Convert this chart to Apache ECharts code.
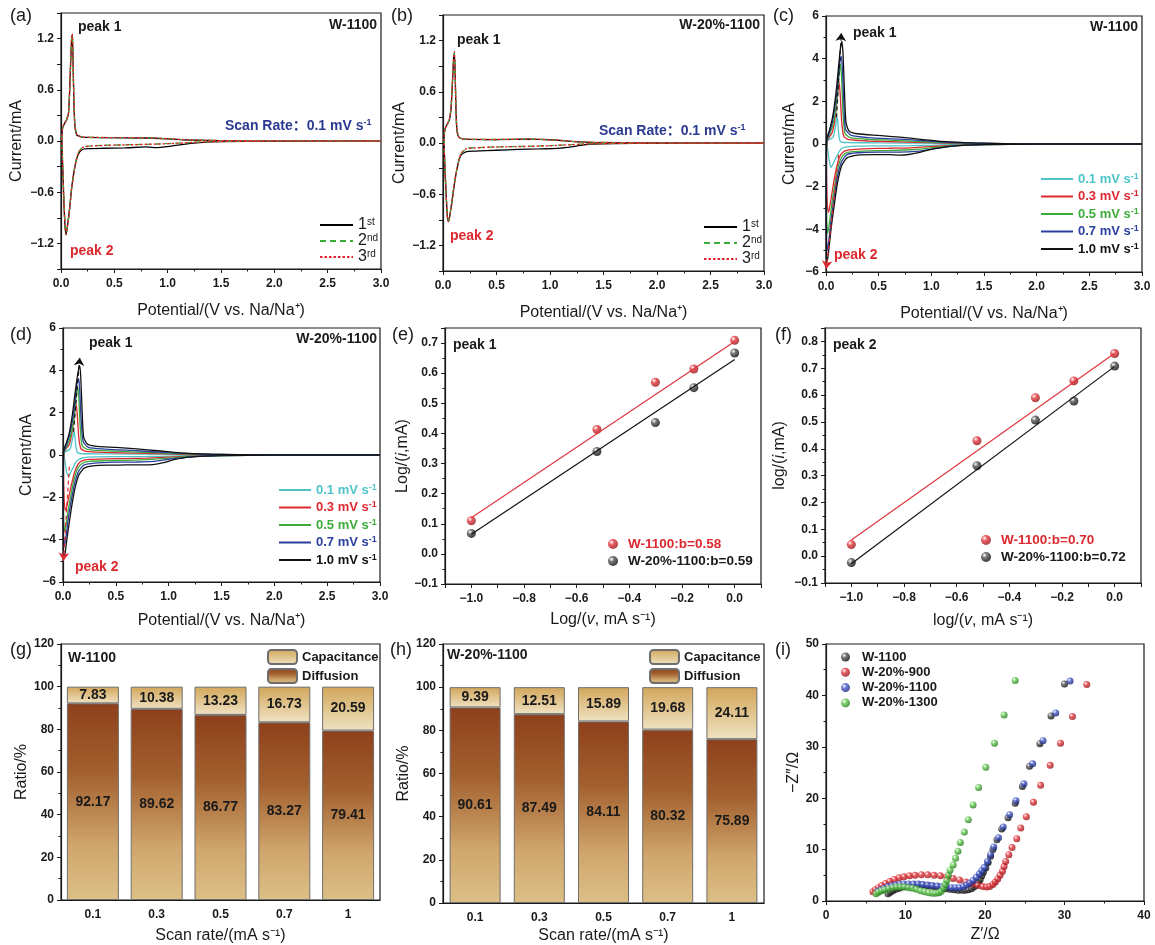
<!DOCTYPE html>
<html>
<head>
<meta charset="utf-8">
<script src="https://cdn.jsdelivr.net/npm/echarts@6/dist/echarts.min.js"></script>
<style>
html, body { margin: 0; background: #fff; }
#chart { width: 1155px; height: 945px; }
</style>
</head>
<body>
<div id="chart"></div>
<script>
// ---- data ----
// (a) W-1100 at 0.1 mV/s, cycles 1-3  [potential V, current mA]
const a1st = [[3.0,0],[2.0,-0.003],[1.5,-0.008],[1.3,-0.02],[1.15,-0.04],[1.0,-0.065],[0.9,-0.078],[0.8,-0.07],[0.6,-0.08],[0.4,-0.085],[0.25,-0.09],[0.2,-0.1],[0.16,-0.16],[0.13,-0.3],[0.1,-0.55],[0.08,-0.8],[0.06,-1.0],[0.048,-1.1],[0.038,-1.0],[0.028,-0.75],[0.02,-0.45],[0.012,-0.15],[0.008,0.05],[0.015,0.15],[0.03,0.2],[0.05,0.24],[0.07,0.32],[0.08,0.55],[0.09,0.9],[0.1,1.2],[0.106,1.24],[0.112,1.0],[0.12,0.5],[0.13,0.18],[0.15,0.07],[0.2,0.045],[0.4,0.04],[0.8,0.035],[1.0,0.025],[1.2,0.012],[1.5,0.004],[2.0,0.002],[3.0,0]];
const a2nd = [[3.0,0],[2.0,-0.002],[1.5,-0.005],[1.3,-0.012],[1.1,-0.025],[0.9,-0.035],[0.6,-0.045],[0.4,-0.05],[0.25,-0.06],[0.2,-0.075],[0.16,-0.14],[0.13,-0.3],[0.1,-0.55],[0.08,-0.8],[0.06,-1.0],[0.047,-1.08],[0.038,-0.98],[0.028,-0.72],[0.02,-0.43],[0.012,-0.14],[0.008,0.05],[0.015,0.15],[0.03,0.2],[0.05,0.24],[0.07,0.33],[0.08,0.56],[0.09,0.92],[0.1,1.22],[0.106,1.25],[0.112,1.02],[0.12,0.52],[0.13,0.19],[0.15,0.075],[0.2,0.045],[0.4,0.04],[0.8,0.037],[1.0,0.027],[1.2,0.013],[1.5,0.005],[2.0,0.002],[3.0,0]];
const a3rd = [[3.0,0],[2.0,-0.002],[1.5,-0.006],[1.3,-0.013],[1.1,-0.026],[0.9,-0.036],[0.6,-0.046],[0.4,-0.052],[0.25,-0.062],[0.2,-0.078],[0.16,-0.15],[0.13,-0.31],[0.1,-0.56],[0.08,-0.81],[0.06,-1.01],[0.047,-1.09],[0.038,-0.99],[0.028,-0.73],[0.02,-0.44],[0.012,-0.15],[0.008,0.05],[0.015,0.15],[0.03,0.2],[0.05,0.24],[0.07,0.33],[0.08,0.57],[0.09,0.93],[0.1,1.23],[0.106,1.26],[0.112,1.03],[0.12,0.53],[0.13,0.19],[0.15,0.076],[0.2,0.046],[0.4,0.041],[0.8,0.037],[1.0,0.027],[1.2,0.013],[1.5,0.005],[2.0,0.002],[3.0,0]];
// (b) W-20%-1100 at 0.1 mV/s
const b1st = [[3.0,0],[2.0,-0.003],[1.6,-0.006],[1.4,-0.012],[1.3,-0.025],[1.2,-0.045],[1.1,-0.06],[0.9,-0.07],[0.7,-0.075],[0.5,-0.085],[0.3,-0.095],[0.22,-0.1],[0.17,-0.14],[0.14,-0.25],[0.11,-0.45],[0.08,-0.72],[0.06,-0.88],[0.05,-0.92],[0.04,-0.85],[0.03,-0.62],[0.02,-0.35],[0.012,-0.08],[0.01,0.08],[0.02,0.17],[0.04,0.22],[0.06,0.27],[0.075,0.4],[0.09,0.75],[0.1,1.0],[0.106,1.05],[0.113,0.85],[0.12,0.45],[0.13,0.15],[0.15,0.065],[0.2,0.045],[0.5,0.04],[0.8,0.045],[1.0,0.038],[1.2,0.02],[1.4,0.008],[2.0,0.002],[3.0,0]];
const b2nd = [[3.0,0],[2.0,-0.002],[1.6,-0.004],[1.4,-0.008],[1.2,-0.018],[1.0,-0.03],[0.8,-0.038],[0.5,-0.045],[0.3,-0.055],[0.22,-0.065],[0.17,-0.12],[0.14,-0.24],[0.11,-0.44],[0.08,-0.71],[0.06,-0.87],[0.05,-0.91],[0.04,-0.84],[0.03,-0.61],[0.02,-0.34],[0.012,-0.08],[0.01,0.08],[0.02,0.17],[0.04,0.22],[0.06,0.28],[0.075,0.41],[0.09,0.76],[0.1,1.01],[0.106,1.06],[0.113,0.86],[0.12,0.46],[0.13,0.16],[0.15,0.068],[0.2,0.046],[0.5,0.041],[0.8,0.046],[1.0,0.038],[1.2,0.02],[1.4,0.008],[2.0,0.002],[3.0,0]];
const b3rd = [[3.0,0],[2.0,-0.002],[1.6,-0.005],[1.4,-0.009],[1.2,-0.02],[1.0,-0.032],[0.8,-0.04],[0.5,-0.047],[0.3,-0.057],[0.22,-0.067],[0.17,-0.12],[0.14,-0.24],[0.11,-0.45],[0.08,-0.72],[0.06,-0.88],[0.05,-0.92],[0.04,-0.85],[0.03,-0.62],[0.02,-0.35],[0.012,-0.08],[0.01,0.08],[0.02,0.17],[0.04,0.22],[0.06,0.28],[0.075,0.41],[0.09,0.77],[0.1,1.02],[0.106,1.07],[0.113,0.87],[0.12,0.46],[0.13,0.16],[0.15,0.068],[0.2,0.046],[0.5,0.041],[0.8,0.046],[1.0,0.038],[1.2,0.02],[1.4,0.008],[2.0,0.002],[3.0,0]];
// (c) W-1100, scan rates 0.1-1.0 mV/s
const c01 = [[3.0,0],[2.0,-0.005],[1.5,-0.01],[1.2,-0.03],[1.0,-0.06],[0.8,-0.08],[0.5,-0.09],[0.3,-0.1],[0.2,-0.13],[0.15,-0.2],[0.12,-0.4],[0.09,-0.7],[0.06,-1.0],[0.048,-1.1],[0.035,-0.9],[0.02,-0.4],[0.01,0.0],[0.02,0.2],[0.05,0.25],[0.07,0.35],[0.09,0.8],[0.1,1.2],[0.107,1.25],[0.115,0.8],[0.125,0.3],[0.14,0.1],[0.2,0.07],[0.5,0.05],[0.9,0.04],[1.2,0.02],[1.6,0.005],[3.0,0]];
const c03 = [[3.0,0],[2.0,-0.01],[1.5,-0.02],[1.2,-0.06],[1.0,-0.12],[0.8,-0.18],[0.6,-0.2],[0.4,-0.22],[0.25,-0.26],[0.18,-0.32],[0.14,-0.5],[0.11,-0.9],[0.08,-1.6],[0.05,-2.5],[0.03,-3.1],[0.02,-3.2],[0.01,-2.5],[0.005,-1.0],[0.01,0.1],[0.03,0.3],[0.06,0.55],[0.08,1.0],[0.1,1.8],[0.115,2.6],[0.125,2.9],[0.135,2.3],[0.15,1.0],[0.17,0.35],[0.22,0.2],[0.4,0.14],[0.7,0.1],[1.0,0.06],[1.3,0.03],[1.7,0.01],[3.0,0]];
const c05 = [[3.0,0],[2.0,-0.01],[1.5,-0.03],[1.2,-0.08],[1.0,-0.18],[0.8,-0.27],[0.6,-0.3],[0.4,-0.32],[0.25,-0.36],[0.18,-0.45],[0.14,-0.7],[0.11,-1.2],[0.08,-2.0],[0.05,-3.0],[0.03,-3.8],[0.015,-4.2],[0.006,-3.5],[0.003,-1.5],[0.008,0.1],[0.03,0.4],[0.06,0.8],[0.09,1.5],[0.11,2.4],[0.125,3.3],[0.137,3.75],[0.148,3.1],[0.16,1.6],[0.18,0.5],[0.23,0.3],[0.4,0.22],[0.7,0.16],[1.0,0.09],[1.3,0.04],[1.8,0.01],[3.0,0]];
const c07 = [[3.0,0],[2.0,-0.01],[1.5,-0.03],[1.2,-0.1],[1.0,-0.24],[0.85,-0.35],[0.7,-0.38],[0.5,-0.38],[0.3,-0.41],[0.2,-0.5],[0.15,-0.8],[0.11,-1.5],[0.08,-2.4],[0.05,-3.5],[0.03,-4.4],[0.012,-5.0],[0.005,-4.5],[0.002,-2.0],[0.006,0.1],[0.03,0.5],[0.06,1.0],[0.09,1.9],[0.115,3.0],[0.13,3.8],[0.145,4.12],[0.156,3.5],[0.168,2.0],[0.185,0.7],[0.24,0.4],[0.4,0.3],[0.7,0.23],[1.0,0.13],[1.3,0.05],[1.8,0.01],[3.0,0]];
const c10 = [[3.0,0],[2.0,-0.01],[1.5,-0.03],[1.2,-0.1],[1.0,-0.25],[0.9,-0.38],[0.8,-0.48],[0.7,-0.52],[0.6,-0.5],[0.45,-0.5],[0.3,-0.52],[0.2,-0.65],[0.15,-1.0],[0.11,-1.8],[0.08,-2.8],[0.05,-3.9],[0.03,-4.8],[0.012,-5.5],[0.004,-5.3],[0.001,-2.5],[0.005,0.2],[0.03,0.6],[0.06,1.2],[0.09,2.2],[0.115,3.4],[0.135,4.4],[0.15,4.82],[0.162,4.2],[0.175,2.5],[0.19,1.0],[0.22,0.6],[0.3,0.48],[0.5,0.4],[0.7,0.32],[0.9,0.22],[1.1,0.12],[1.4,0.05],[1.8,0.01],[3.0,0]];
// (d) W-20%-1100, scan rates 0.1-1.0 mV/s
const d01 = [[3.0,0],[2.0,-0.005],[1.5,-0.01],[1.2,-0.03],[1.0,-0.05],[0.8,-0.07],[0.5,-0.08],[0.3,-0.09],[0.2,-0.12],[0.15,-0.2],[0.12,-0.35],[0.09,-0.65],[0.06,-0.95],[0.05,-1.0],[0.035,-0.8],[0.02,-0.35],[0.01,0.0],[0.02,0.15],[0.05,0.22],[0.07,0.32],[0.09,0.75],[0.1,1.05],[0.107,1.1],[0.115,0.75],[0.125,0.3],[0.14,0.1],[0.2,0.06],[0.5,0.05],[0.9,0.04],[1.2,0.02],[1.6,0.005],[3.0,0]];
const d03 = [[3.0,0],[2.0,-0.01],[1.5,-0.02],[1.2,-0.05],[1.0,-0.1],[0.8,-0.15],[0.6,-0.17],[0.4,-0.18],[0.25,-0.21],[0.18,-0.28],[0.14,-0.45],[0.11,-0.8],[0.08,-1.4],[0.05,-2.1],[0.03,-2.55],[0.02,-2.6],[0.01,-2.0],[0.005,-0.8],[0.01,0.1],[0.03,0.3],[0.06,0.5],[0.08,0.9],[0.1,1.6],[0.115,2.2],[0.125,2.4],[0.135,1.9],[0.15,0.8],[0.17,0.3],[0.22,0.17],[0.4,0.12],[0.7,0.09],[1.0,0.05],[1.3,0.025],[1.7,0.01],[3.0,0]];
const d05 = [[3.0,0],[2.0,-0.01],[1.5,-0.025],[1.2,-0.07],[1.0,-0.15],[0.8,-0.22],[0.6,-0.25],[0.4,-0.27],[0.25,-0.3],[0.18,-0.4],[0.14,-0.62],[0.11,-1.05],[0.08,-1.75],[0.05,-2.6],[0.03,-3.25],[0.015,-3.6],[0.006,-3.0],[0.003,-1.3],[0.008,0.1],[0.03,0.35],[0.06,0.7],[0.09,1.3],[0.11,2.0],[0.125,2.8],[0.14,3.2],[0.15,2.7],[0.162,1.4],[0.18,0.45],[0.23,0.27],[0.4,0.2],[0.7,0.14],[1.0,0.08],[1.3,0.035],[1.8,0.01],[3.0,0]];
const d07 = [[3.0,0],[2.0,-0.01],[1.5,-0.03],[1.2,-0.09],[1.0,-0.2],[0.85,-0.3],[0.7,-0.33],[0.5,-0.34],[0.3,-0.38],[0.2,-0.47],[0.15,-0.75],[0.11,-1.35],[0.08,-2.1],[0.05,-3.0],[0.03,-3.8],[0.012,-4.3],[0.005,-3.9],[0.002,-1.7],[0.006,0.1],[0.03,0.45],[0.06,0.9],[0.09,1.65],[0.115,2.6],[0.13,3.3],[0.148,3.62],[0.158,3.1],[0.17,1.8],[0.19,0.65],[0.24,0.36],[0.4,0.28],[0.7,0.2],[1.0,0.11],[1.3,0.045],[1.8,0.01],[3.0,0]];
const d10 = [[3.0,0],[2.0,-0.01],[1.5,-0.03],[1.2,-0.1],[1.05,-0.22],[0.95,-0.36],[0.85,-0.45],[0.75,-0.47],[0.6,-0.47],[0.45,-0.48],[0.3,-0.5],[0.2,-0.62],[0.15,-0.95],[0.11,-1.65],[0.08,-2.5],[0.05,-3.5],[0.03,-4.25],[0.012,-4.85],[0.004,-4.7],[0.001,-2.2],[0.005,0.2],[0.03,0.55],[0.06,1.05],[0.09,1.95],[0.115,2.95],[0.14,3.85],[0.158,4.22],[0.168,3.7],[0.18,2.2],[0.195,0.85],[0.23,0.52],[0.3,0.42],[0.5,0.36],[0.7,0.29],[0.9,0.2],[1.1,0.1],[1.4,0.04],[1.8,0.01],[3.0,0]];
// dashed guide arrows (from the slow-rate peak to the fast-rate peak)
const cArrowUp = [[0.1,1.25],[0.145,5.2]];
const cArrowDown = [[0.12,-0.5],[0.003,-5.85]];
const dArrowUp = [[0.1,1.1],[0.158,4.6]];
const dArrowDown = [[0.06,-0.55],[0.004,-5.0]];

// (e)/(f) log(v) vs log(i)
const logV = [-1, -0.523, -0.301, -0.155, 0];
const ePeak1W1100 = [0.11, 0.413, 0.57, 0.614, 0.709];
const ePeak1W20 = [0.068, 0.34, 0.436, 0.552, 0.667];
const eFitW1100 = [[-1, 0.12], [0, 0.705]];
const eFitW20 = [[-1, 0.065], [0, 0.645]];
const fPeak2W1100 = [0.043, 0.43, 0.59, 0.653, 0.755];
const fPeak2W20 = [-0.024, 0.337, 0.507, 0.578, 0.708];
const fFitW1100 = [[-1, 0.06], [0, 0.756]];
const fFitW20 = [[-1, -0.028], [0, 0.707]];

// (g)/(h) contribution ratios
const rateCats = ['0.1', '0.3', '0.5', '0.7', '1'];
const gDiffusion = [92.17, 89.62, 86.77, 83.27, 79.41];
const gCapacitance = [7.83, 10.38, 13.23, 16.73, 20.59];
const hDiffusion = [90.61, 87.49, 84.11, 80.32, 75.89];
const hCapacitance = [9.39, 12.51, 15.89, 19.68, 24.11];

// (i) Nyquist plots  [Z', -Z'']
const nyW1100 = [[7.8,1.4],[8.1,1.7],[8.4,2.0],[8.8,2.3],[9.2,2.5],[9.6,2.7],[10.1,2.9],[10.6,3.0],[11.1,3.1],[11.6,3.1],[12.1,3.1],[12.6,3.0],[13.1,2.9],[13.6,2.8],[14.1,2.7],[14.6,2.5],[15.1,2.4],[15.6,2.3],[16.1,2.2],[16.6,2.1],[17.1,2.1],[17.5,2.1],[17.9,2.2],[18.3,2.4],[18.6,2.7],[18.9,3.1],[19.2,3.6],[19.4,4.2],[19.6,4.9],[19.8,5.6],[20.1,6.4],[20.4,7.5],[20.7,8.7],[21.0,10.0],[21.5,11.9],[22.1,14.0],[22.9,16.2],[23.8,19.0],[24.7,22.3],[25.6,26.2],[26.9,30.6],[28.3,36.0],[30.0,42.2]];
const nyW20900 = [[5.9,1.8],[6.2,2.2],[6.6,2.6],[7.0,3.0],[7.5,3.4],[8.0,3.8],[8.6,4.2],[9.2,4.5],[9.8,4.7],[10.5,4.9],[11.2,5.0],[12.0,5.1],[12.8,5.1],[13.6,5.0],[14.4,4.9],[15.2,4.7],[16.0,4.4],[16.8,4.1],[17.6,3.7],[18.4,3.3],[19.1,3.0],[19.7,2.8],[20.2,2.7],[20.6,2.8],[21.0,3.2],[21.3,3.7],[21.6,4.3],[21.9,5.0],[22.2,5.8],[22.4,6.7],[22.6,7.7],[23.0,9.0],[23.4,10.4],[24.0,12.1],[24.5,14.2],[25.2,16.4],[26.1,19.2],[27.0,22.5],[28.2,26.4],[29.5,30.7],[31.0,35.9],[32.8,42.1]];
const nyW201100 = [[6.5,1.9],[6.9,2.2],[7.3,2.5],[7.8,2.8],[8.3,3.0],[8.8,3.1],[9.3,3.2],[9.8,3.3],[10.4,3.3],[11.0,3.3],[11.6,3.3],[12.2,3.2],[12.8,3.1],[13.4,3.0],[14.0,2.9],[14.6,2.8],[15.2,2.7],[15.8,2.6],[16.3,2.6],[16.8,2.6],[17.3,2.8],[17.7,3.1],[18.1,3.5],[18.5,4.0],[18.9,4.6],[19.3,5.3],[19.6,5.9],[19.9,6.5],[20.3,7.7],[20.7,9.0],[21.1,10.5],[21.7,12.3],[22.3,14.4],[23.1,16.8],[23.9,19.5],[24.9,22.8],[26.0,26.7],[27.3,31.2],[28.9,36.6],[30.7,42.8]];
const nyW201300 = [[6.3,1.4],[6.6,1.7],[7.0,2.0],[7.4,2.2],[7.9,2.4],[8.4,2.6],[8.9,2.7],[9.4,2.7],[9.9,2.7],[10.4,2.6],[10.9,2.5],[11.4,2.3],[11.9,2.0],[12.4,1.8],[12.9,1.6],[13.4,1.5],[13.8,1.5],[14.2,1.6],[14.5,1.9],[14.8,2.5],[15.0,3.2],[15.2,4.0],[15.4,5.0],[15.6,6.0],[16.0,7.0],[16.3,8.3],[16.6,9.7],[16.9,11.4],[17.4,13.4],[17.9,15.8],[18.5,18.7],[19.2,22.1],[20.1,26.0],[21.2,30.7],[22.4,36.2],[23.8,42.9]];

// ---- styling helpers ----
const FONT = '"Liberation Sans", Arial, "Noto Sans CJK SC", sans-serif';
const INK = '#1a1a1a';
const RED = '#dc2930', NAVY = '#2b3990', CYAN = '#4dc4c8', GREEN = '#3dab3a', BLUE = '#2a3f9f';

const minus = v => (v < -1e-9 ? '\u2212' : '');
const f1 = v => minus(v) + Math.abs(v).toFixed(1);
const f0 = v => minus(v) + Math.abs(Math.round(v));
const onStep = (v, s) => Math.abs(v / s - Math.round(v / s)) < 1e-6;

function vAxis(gi, min, max, interval, fmt, name, gap, minor) {
  return {
    type: 'value', gridIndex: gi, min: min, max: max, interval: interval,
    name: name, nameLocation: 'middle', nameGap: gap,
    nameTextStyle: { color: INK, fontSize: 16, fontFamily: FONT,
      rich: { i: { fontStyle: 'italic', fontSize: 16, fontFamily: FONT, color: INK } } },
    axisLine: { show: true, onZero: false, lineStyle: { color: INK, width: 1.2 } },
    axisTick: { show: true, length: 4, lineStyle: { color: INK, width: 1 } },
    minorTick: { show: !!minor, splitNumber: minor || 5, length: 2.5, lineStyle: { color: INK } },
    splitLine: { show: false },
    axisLabel: { color: INK, fontSize: 12, fontWeight: 'bold', fontFamily: FONT, margin: 7, formatter: fmt }
  };
}
function xv() { const ax = vAxis.apply(null, arguments); ax.axisLabel.margin = 9; return ax; }
function cAxis(gi, gap) {
  return {
    type: 'category', gridIndex: gi, data: rateCats,
    name: 'Scan rate/(mA s\u207B\u00B9)', nameLocation: 'middle', nameGap: gap,
    nameTextStyle: { color: INK, fontSize: 16, fontFamily: FONT },
    axisLine: { show: true, lineStyle: { color: INK, width: 1.2 } },
    axisTick: { show: false },
    axisLabel: { color: INK, fontSize: 12, fontWeight: 'bold', fontFamily: FONT, margin: 9 }
  };
}

function cv(name, gi, data, color, type, width) {
  return { type: 'line', name: name, xAxisIndex: gi, yAxisIndex: gi, data: data,
    symbol: 'none', smooth: 0.2, itemStyle: { color: color },
    lineStyle: { color: color, width: width || 1.3, type: type || 'solid' } };
}
function arrow(pts, color) {
  return { silent: true, symbol: ['none', 'arrow'], symbolSize: 8, label: { show: false },
    lineStyle: { type: [4, 3], color: color, width: 1.2 },
    data: [[{ coord: pts[0] }, { coord: pts[1] }]] };
}
function ball(c0, c1) {
  return { type: 'radial', x: 0.35, y: 0.32, r: 0.75,
    colorStops: [{ offset: 0, color: '#ffffff' }, { offset: 0.35, color: c0 }, { offset: 1, color: c1 }] };
}
function dots(name, gi, data, c0, c1, size) {
  return { type: 'scatter', name: name, xAxisIndex: gi, yAxisIndex: gi, data: data,
    symbolSize: size, itemStyle: { color: ball(c0, c1) } };
}
function fit(name, gi, data, color) {
  return { type: 'line', name: name, xAxisIndex: gi, yAxisIndex: gi, data: data,
    symbol: 'none', lineStyle: { color: color, width: 1.2 }, itemStyle: { color: color } };
}
const gradDiff = { type: 'linear', x: 0, y: 0, x2: 0, y2: 1,
  colorStops: [{ offset: 0, color: '#8e401b' }, { offset: 0.35, color: '#a3602f' },
               { offset: 0.72, color: '#cfa56c' }, { offset: 1, color: '#dcc087' }] };
const gradCap = { type: 'linear', x: 0, y: 0, x2: 0, y2: 1,
  colorStops: [{ offset: 0, color: '#d2a65a' }, { offset: 1, color: '#efe2c2' }] };
function bars(name, gi, stack, data, grad, w) {
  return { type: 'bar', name: name, stack: stack, xAxisIndex: gi, yAxisIndex: gi, data: data,
    barWidth: w, itemStyle: { color: grad, borderColor: '#6e6e6e', borderWidth: 1 },
    label: { show: true, position: 'inside', color: INK, fontSize: 14, fontWeight: 'bold',
      fontFamily: FONT, formatter: p => p.value.toFixed(2) } };
}

const pair = (xs, ys) => xs.map((x, i) => [x, ys[i]]);
const rate = ['0.1 mV s-1', '0.3 mV s-1', '0.5 mV s-1', '0.7 mV s-1', '1.0 mV s-1'];
const rateColors = [CYAN, RED, GREEN, BLUE, '#111'];

// ---- layout ----
const grids = [
  { left: 61, top: 13, width: 320, height: 256 },
  { left: 443, top: 15, width: 321, height: 256 },
  { left: 826, top: 16, width: 316, height: 256 },
  { left: 63, top: 328, width: 317, height: 254 },
  { left: 445, top: 328, width: 316, height: 256 },
  { left: 825, top: 328, width: 316, height: 255 },
  { left: 61, top: 644, width: 319, height: 256 },
  { left: 443, top: 644, width: 321, height: 259 },
  { left: 826, top: 644, width: 318, height: 257 }
].map(g => Object.assign({ show: true, borderColor: INK, borderWidth: 1.2,
  backgroundColor: 'rgba(0,0,0,0)', outerBoundsMode: 'none', containLabel: false }, g));

const potName = 'Potential/(V vs. Na/Na\u207A)';
const yCV = v => (onStep(v, 0.6) ? f1(v) : '');
const xLog = v => (onStep(v, 0.2) ? f1(v) : '');
const yLog = v => (onStep(v, 0.1) ? f1(v) : '');

const xAxes = [
  xv(0, 0, 3, 0.5, f1, potName, 34, 2),
  xv(1, 0, 3, 0.5, f1, potName, 34, 2),
  xv(2, 0, 3, 0.5, f1, potName, 34, 2),
  xv(3, 0, 3, 0.5, f1, potName, 31, 2),
  xv(4, -1.1, 0.1, 0.1, xLog, 'Log/({i|v}, mA s\u207B\u00B9)', 28),
  xv(5, -1.1, 0.1, 0.1, xLog, 'log/({i|v}, mA s\u207B\u00B9)', 30),
  cAxis(6, 28),
  cAxis(7, 25),
  xv(8, 0, 40, 10, f0, 'Z\u2032/\u03A9', 26, 2)
];
const yAxes = [
  vAxis(0, -1.5, 1.5, 0.3, yCV, 'Current/mA', 36),
  vAxis(1, -1.5, 1.5, 0.3, yCV, 'Current/mA', 35),
  vAxis(2, -6, 6, 2, f0, 'Current/mA', 28, 2),
  vAxis(3, -6, 6, 2, f0, 'Current/mA', 28, 2),
  vAxis(4, -0.1, 0.75, 0.1, yLog, 'Log/({i|i},mA)', 31, 2),
  vAxis(5, -0.1, 0.85, 0.1, yLog, 'log/({i|i},mA)', 37, 2),
  vAxis(6, 0, 120, 20, f0, 'Ratio/%', 29, 2),
  vAxis(7, 0, 120, 20, f0, 'Ratio/%', 30, 2),
  vAxis(8, 0, 50, 10, f0, '\u2212Z\u2033/\u03A9', 24, 2)
];

const series = [
  cv('1st', 0, a1st, '#000'), cv('2nd', 0, a2nd, GREEN, [6, 4]), cv('3rd', 0, a3rd, '#e3222b', [2.5, 2]),
  cv('1st', 1, b1st, '#000'), cv('2nd', 1, b2nd, GREEN, [6, 4]), cv('3rd', 1, b3rd, '#e3222b', [2.5, 2]),
  cv(rate[0], 2, c01, CYAN), cv(rate[1], 2, c03, RED), cv(rate[2], 2, c05, GREEN),
  cv(rate[3], 2, c07, BLUE), cv(rate[4], 2, c10, '#111'),
  cv(rate[0], 3, d01, CYAN), cv(rate[1], 3, d03, RED), cv(rate[2], 3, d05, GREEN),
  cv(rate[3], 3, d07, BLUE), cv(rate[4], 3, d10, '#111'),
  fit('fit e1', 4, eFitW1100, '#e0363c'), fit('fit e2', 4, eFitW20, '#111'),
  dots('W-1100:b=0.58', 4, pair(logV, ePeak1W1100), '#e6393f', '#8c1014', 9),
  dots('W-20%-1100:b=0.59', 4, pair(logV, ePeak1W20), '#555', '#000', 9),
  fit('fit f1', 5, fFitW1100, '#e0363c'), fit('fit f2', 5, fFitW20, '#111'),
  dots('W-1100:b=0.70', 5, pair(logV, fPeak2W1100), '#e6393f', '#8c1014', 9),
  dots('W-20%-1100:b=0.72', 5, pair(logV, fPeak2W20), '#555', '#000', 9),
  bars('Diffusion', 6, 'g', gDiffusion, gradDiff, 52), bars('Capacitance', 6, 'g', gCapacitance, gradCap, 52),
  bars('Diffusion', 7, 'h', hDiffusion, gradDiff, 51), bars('Capacitance', 7, 'h', hCapacitance, gradCap, 51),
  dots('W-1100', 8, nyW1100, '#555', '#000', 7),
  dots('W-20%-900', 8, nyW20900, '#e6393f', '#8c1014', 7),
  dots('W-20%-1100', 8, nyW201100, '#4a5fd0', '#121c6b', 7),
  dots('W-20%-1300', 8, nyW201300, '#66cc55', '#1f7016', 7)
];
// guide arrows ride on the fastest-rate curves
series[10].markLine = arrow(cArrowUp, '#111');
series[7].markLine = arrow(cArrowDown, RED);
series[15].markLine = arrow(dArrowUp, '#111');
series[12].markLine = arrow(dArrowDown, RED);

// ---- legends ----
const legText = { color: INK, fontFamily: FONT, fontSize: 14, fontWeight: 'bold' };
function leg(left, top, data, extra) {
  return Object.assign({ left: left, top: top, orient: 'vertical', padding: 0, selectedMode: false,
    itemGap: 4, itemWidth: 32, itemHeight: 12, data: data,
    textStyle: Object.assign({ lineHeight: 14 }, legText) }, extra);
}
const supLegend = {
  itemGap: 0, itemWidth: 33, itemHeight: 12, itemStyle: { opacity: 0 },
  formatter: n => '{n|' + n[0] + '}{s|' + n.slice(1) + '}',
  textStyle: { color: INK, fontFamily: FONT,
    rich: { n: { fontSize: 16, lineHeight: 16, fontFamily: FONT, color: INK },
            s: { fontSize: 10, lineHeight: 10, verticalAlign: 'top', fontFamily: FONT, color: INK } } }
};
const rateRich = {};
rateColors.forEach((c, i) => {
  rateRich['t' + i] = { color: c, fontSize: 13, fontWeight: 'bold', fontFamily: FONT, lineHeight: 14 };
  rateRich['u' + i] = { color: c, fontSize: 9, fontWeight: 'bold', fontFamily: FONT, lineHeight: 9, verticalAlign: 'top' };
});
const rateLegend = {
  itemStyle: { opacity: 0 },
  formatter: n => { const i = rate.indexOf(n); return '{t' + i + '|' + n.slice(0, -2) + '}{u' + i + '|-1}'; },
  textStyle: { rich: rateRich }
};
const dotLeg = { itemWidth: 10, itemHeight: 10, itemGap: 3,
  textStyle: Object.assign({}, legText, { fontSize: 13.5, lineHeight: 14, padding: [0, 0, 0, 5] }) };
const barLeg = { itemWidth: 29, itemHeight: 14, itemGap: 3,
  textStyle: Object.assign({}, legText, { fontSize: 13, lineHeight: 14 }) };

const legends = [
  leg(319, 217, ['1st', '2nd', '3rd'], supLegend),
  leg(703, 219, ['1st', '2nd', '3rd'], supLegend),
  leg(1040, 172, rate, rateLegend),
  leg(278, 483, rate, rateLegend),
  leg(608, 537, [{ name: 'W-1100:b=0.58', textStyle: { color: RED } }, 'W-20%-1100:b=0.59'], dotLeg),
  leg(981, 533, [{ name: 'W-1100:b=0.70', textStyle: { color: RED } }, 'W-20%-1100:b=0.72'], dotLeg),
  leg(267, 649, ['Capacitance', 'Diffusion'], barLeg),
  leg(649, 649, ['Capacitance', 'Diffusion'], barLeg),
  leg(841, 650, ['W-1100', 'W-20%-900', 'W-20%-1100', 'W-20%-1300'],
    { itemWidth: 9, itemHeight: 9, itemGap: 1.3, textStyle: Object.assign({}, legText, { fontSize: 13, lineHeight: 14, padding: [0, 0, 0, 7] }) })
];

// ---- free text ----
function T(x, y, text, opt) {
  opt = opt || {};
  return { type: 'text', x: x, y: y, silent: true,
    style: { text: text, fill: opt.color || INK, fontSize: opt.size || 14, fontWeight: opt.weight || 'bold',
      fontFamily: FONT, align: opt.align || 'left', verticalAlign: opt.va || 'middle', rich: opt.rich } };
}
const tag = { size: 18, weight: 'normal', va: 'top' };
const scanOpt = { color: NAVY, rich: {
  m: { fill: NAVY, fontSize: 14, fontWeight: 'bold', fontFamily: FONT, lineHeight: 15 },
  u: { fill: NAVY, fontSize: 9, fontWeight: 'bold', fontFamily: FONT, lineHeight: 9, verticalAlign: 'top' } } };
const scan = '{m|Scan Rate\uFF1A0.1 mV s}{u|-1}';
const texts = [
  T(10, 7, '(a)', tag), T(391, 7, '(b)', tag), T(773, 7, '(c)', tag),
  T(10, 326, '(d)', tag), T(392, 326, '(e)', tag), T(775, 326, '(f)', tag),
  T(10, 641, '(g)', tag), T(390, 641, '(h)', tag), T(775, 641, '(i)', tag),
  T(78, 27, 'peak 1'), T(377, 25, 'W-1100', { align: 'right' }),
  T(225, 126, scan, scanOpt), T(70, 251, 'peak 2', { color: RED }),
  T(457, 40, 'peak 1'), T(760, 25, 'W-20%-1100', { align: 'right' }),
  T(599, 131, scan, scanOpt), T(450, 236, 'peak 2', { color: RED }),
  T(853, 33, 'peak 1'), T(1138, 27, 'W-1100', { align: 'right' }), T(834, 255, 'peak 2', { color: RED }),
  T(89, 343, 'peak 1'), T(377, 339, 'W-20%-1100', { align: 'right' }), T(75, 567, 'peak 2', { color: RED }),
  T(453, 345, 'peak 1'), T(833, 345, 'peak 2'),
  T(68, 658, 'W-1100'), T(447, 655, 'W-20%-1100')
];

const chart = echarts.init(document.getElementById('chart'), null, { renderer: 'canvas' });
chart.setOption({
  backgroundColor: '#ffffff',
  animation: false,
  textStyle: { fontFamily: FONT },
  grid: grids,
  xAxis: xAxes,
  yAxis: yAxes,
  legend: legends,
  series: series,
  graphic: { elements: texts }
});
</script>
</body>
</html>
